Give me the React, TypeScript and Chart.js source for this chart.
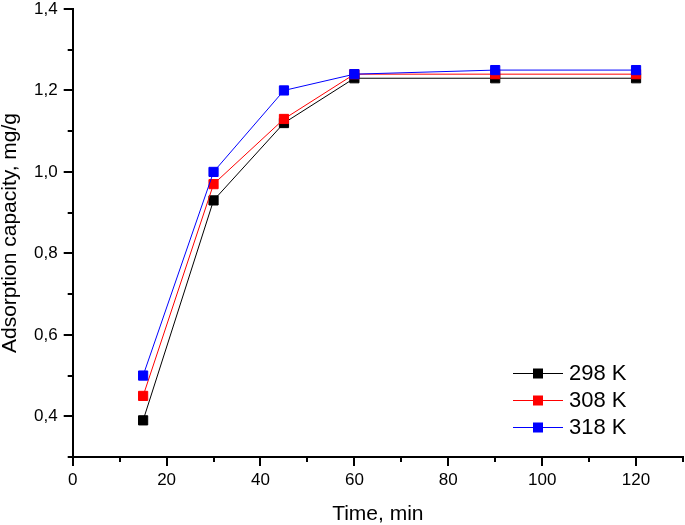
import React, { useEffect, useRef } from 'react';
import { Chart, registerables } from 'chart.js';

Chart.register(...registerables);

// ---- data ----
const timeMin = [15, 30, 45, 60, 90, 120];
const q298 = [0.39, 0.93, 1.12, 1.23, 1.23, 1.23];
const q308 = [0.45, 0.97, 1.13, 1.24, 1.24, 1.24];
const q318 = [0.5, 1.0, 1.2, 1.24, 1.25, 1.25];
const seriesLabels = ['298 K', '308 K', '318 K'];
const seriesColors = ['#000000', '#ff0000', '#0000ff'];
const xTitle = 'Time, min';
const yTitle = 'Adsorption capacity, mg/g';

const FONT = "'Liberation Sans', Arial, sans-serif";

const tickPlugin = {
  id: 'originTicks',
  afterDraw(chart: any) {
    const ctx = chart.ctx;
    const xs = chart.scales.x;
    const ys = chart.scales.y;
    const { left, bottom } = chart.chartArea;
    ctx.save();
    ctx.strokeStyle = '#000';
    ctx.lineWidth = 2;
    xs.ticks.forEach((t: any) => {
      const v = t.value;
      const major = Math.round(v) % 20 === 0;
      const len = major ? 9 : 5;
      const px = Math.round(xs.getPixelForValue(v));
      ctx.beginPath();
      ctx.moveTo(px, bottom);
      ctx.lineTo(px, bottom + len);
      ctx.stroke();
    });
    ys.ticks.forEach((t: any) => {
      const v = t.value;
      const major = Math.round(v * 10) % 2 === 0;
      const len = major ? 9 : 5;
      const py = Math.round(ys.getPixelForValue(v));
      ctx.beginPath();
      ctx.moveTo(left, py);
      ctx.lineTo(left - len, py);
      ctx.stroke();
    });
    ctx.restore();
  },
};

const legendPlugin = {
  id: 'originLegend',
  afterDraw(chart: any) {
    const ctx = chart.ctx;
    const { right, bottom } = chart.chartArea;
    ctx.save();
    seriesLabels.forEach((lab, i) => {
      const y = bottom - 84 + i * 27;
      const x0 = right - 170;
      const x1 = right - 120;
      ctx.strokeStyle = seriesColors[i];
      ctx.lineWidth = 1;
      ctx.beginPath();
      ctx.moveTo(x0, y + 0.5);
      ctx.lineTo(x1, y + 0.5);
      ctx.stroke();
      ctx.fillStyle = seriesColors[i];
      const cx = (x0 + x1) / 2;
      ctx.fillRect(cx - 5, y - 4.5, 10, 10);
      ctx.fillStyle = '#000';
      ctx.font = `22px ${FONT}`;
      ctx.textBaseline = 'middle';
      ctx.textAlign = 'left';
      ctx.fillText(lab, right - 114, y + 1);
    });
    ctx.restore();
  },
};

export default function App() {
  const ref = useRef<HTMLCanvasElement | null>(null);

  useEffect(() => {
    if (!ref.current) return;
    const series = [q298, q308, q318];
    const chart = new Chart(ref.current, {
      type: 'line',
      data: {
        datasets: series.map((s, i) => ({
          label: seriesLabels[i],
          data: timeMin.map((t, j) => ({ x: t, y: s[j] })),
          borderColor: seriesColors[i],
          backgroundColor: seriesColors[i],
          pointBackgroundColor: seriesColors[i],
          pointBorderColor: seriesColors[i],
          borderWidth: 1,
          pointStyle: 'rect',
          pointRadius: 6.5,
          pointBorderWidth: 1,
          tension: 0,
          fill: false,
          order: 2 - i,
        })),
      },
      options: {
        responsive: false,
        animation: false,
        devicePixelRatio: 1,
        layout: { autoPadding: false, padding: { top: 9, right: 2, left: 0, bottom: 0 } },
        plugins: {
          legend: { display: false },
          tooltip: { enabled: false },
        },
        scales: {
          x: {
            type: 'linear',
            min: 0,
            max: 130,
            afterFit: (s: any) => {
              s.height = 68;
              s.paddingLeft = 0;
              s.paddingRight = 0;
            },
            ticks: {
              stepSize: 10,
              autoSkip: false,
              maxRotation: 0,
              padding: 6,
              color: '#000',
              font: { family: FONT, size: 17, lineHeight: 1 },
              callback: (v: any) => (Math.round(Number(v)) % 20 === 0 ? String(Math.round(Number(v))) : ''),
            },
            grid: {
              display: true,
              drawOnChartArea: false,
              drawTicks: true,
              tickLength: 9,
              tickColor: 'transparent',
            },
            border: { display: true, color: '#000', width: 2 },
            title: {
              display: true,
              text: xTitle,
              color: '#000',
              font: { family: FONT, size: 21, lineHeight: 1 },
              padding: { top: 0, bottom: 0.5 },
            },
          },
          y: {
            type: 'linear',
            min: 0.3,
            max: 1.4,
            afterFit: (s: any) => {
              s.width = 72.7;
              s.paddingTop = 0;
              s.paddingBottom = 0;
            },
            ticks: {
              stepSize: 0.1,
              autoSkip: false,
              padding: 6,
              color: '#000',
              font: { family: FONT, size: 17, lineHeight: 1 },
              callback: (v: any) => {
                const n = Number(v);
                return Math.round(n * 10) % 2 === 0 ? n.toFixed(1).replace('.', ',') : '';
              },
            },
            grid: {
              display: true,
              drawOnChartArea: false,
              drawTicks: true,
              tickLength: 9,
              tickColor: 'transparent',
            },
            border: { display: true, color: '#000', width: 2 },
            title: {
              display: true,
              text: yTitle,
              color: '#000',
              font: { family: FONT, size: 21, lineHeight: 1 },
              padding: { top: 0, bottom: 0 },
            },
          },
        },
      },
      plugins: [tickPlugin, legendPlugin],
    } as any);
    return () => chart.destroy();
  }, []);

  return (
    <div style={{ position: 'absolute', left: 0, top: 0, width: 685, height: 525, background: '#fff' }}>
      <canvas ref={ref} width={685} height={525} />
    </div>
  );
}
